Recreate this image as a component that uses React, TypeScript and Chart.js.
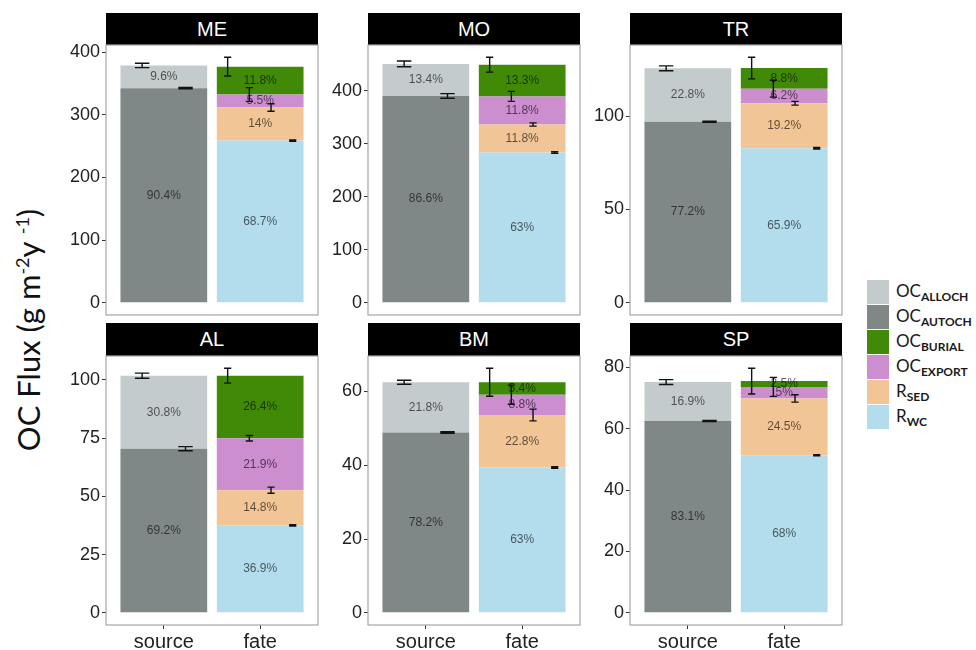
import React, { useEffect, useRef } from 'react';
import { Chart, registerables } from 'chart.js';

Chart.register(...registerables);

// Sites, one facet each (row-major order)
const sites = ['ME', 'MO', 'TR', 'AL', 'BM', 'SP'];
const categories = ['source', 'fate'];

// Total OC flux of each bar (g m-2 y-1)
const sourceTotal = [379, 451, 125.7, 101.8, 62.5, 75.2];
const fateTotal = [377, 450, 125.7, 101.8, 62.5, 75.5];

// Share of each component in its bar (%)
const autochPct = [90.4, 86.6, 77.2, 69.2, 78.2, 83.1];
const allochPct = [9.6, 13.4, 22.8, 30.8, 21.8, 16.9];
const wcPct = [68.7, 63, 65.9, 36.9, 63, 68];
const sedPct = [14, 11.8, 19.2, 14.8, 22.8, 24.5];
const exportPct = [5.5, 11.8, 6.2, 21.9, 8.8, 5];
const burialPct = [11.8, 13.3, 8.8, 26.4, 5.4, 2.5];

// Uncertainty (±) on the cumulative top of each component
const autochErr = [1, 4.4, 0.3, 0.9, 0.2, 0.2];
const allochErr = [3.5, 5.4, 1.3, 1.1, 0.55, 0.8];
const wcErr = [1, 1.5, 0.4, 0.3, 0.2, 0.2];
const sedErr = [6, 3, 1, 1.3, 1.6, 1.2];
const exportErr = [11, 9.5, 4.5, 1.2, 2.6, 3.1];
const burialErr = [15, 14, 5.8, 3.2, 3.8, 4.2];

// y tick spacing per facet
const yStep = [100, 100, 50, 25, 20, 20];

type Layer = {
  name: string;
  sub: string;
  cat: number;
  pct: number[];
  err: number[];
  color: string;
};

// Stacking order: first layer of a bar sits at the bottom
const layers: Layer[] = [
  { name: 'OC', sub: 'AUTOCH', cat: 0, pct: autochPct, err: autochErr, color: '#7f8787' },
  { name: 'OC', sub: 'ALLOCH', cat: 0, pct: allochPct, err: allochErr, color: '#c3cbcc' },
  { name: 'R', sub: 'WC', cat: 1, pct: wcPct, err: wcErr, color: '#b3dcec' },
  { name: 'R', sub: 'SED', cat: 1, pct: sedPct, err: sedErr, color: '#f2c596' },
  { name: 'OC', sub: 'EXPORT', cat: 1, pct: exportPct, err: exportErr, color: '#cc8ecf' },
  { name: 'OC', sub: 'BURIAL', cat: 1, pct: burialPct, err: burialErr, color: '#418a08' },
];

// Legend order
const legendOrder = ['ALLOCH', 'AUTOCH', 'BURIAL', 'EXPORT', 'SED', 'WC'];

const TICK_FONT = "'Liberation Sans', Arial, sans-serif";
const TITLE_FONT = "Lato, 'Open Sans', sans-serif";

const YW = 50; // width of the y axis band
const PAD = 12;
const XH = 30; // height of the x axis band (bottom row)
const colLeft = [106, 368, 630];
const plotW = 212;
const rowTop = [45, 356];
const rowH = [270, 269];
const stripH = [32, 33];

function totalOf(site: number, cat: number) {
  return cat === 0 ? sourceTotal[site] : fateTotal[site];
}

function layerValue(site: number, l: Layer) {
  return (totalOf(site, l.cat) * l.pct[site]) / 100;
}

// cumulative top, error and dodge slot of every layer in a facet
function errorBars(site: number) {
  const out: { cat: number; top: number; err: number; slot: number; n: number }[] = [];
  for (const cat of [0, 1]) {
    const ls = layers.filter((l) => l.cat === cat);
    let cum = 0;
    ls.forEach((l, idx) => {
      cum += layerValue(site, l);
      out.push({ cat, top: cum, err: l.err[site], slot: ls.length - 1 - idx, n: ls.length });
    });
  }
  return out;
}

function Panel({ site }: { site: number }) {
  const ref = useRef<HTMLCanvasElement | null>(null);
  const row = site < 3 ? 0 : 1;
  const col = site % 3;
  const bottomRow = row === 1;
  const width = YW + plotW + PAD;
  const height = PAD + rowH[row] + (bottomRow ? XH : PAD);

  useEffect(() => {
    const canvas = ref.current;
    if (!canvas) return;
    const bars = errorBars(site);
    const dataMax = Math.max(...bars.map((b) => b.top + b.err));
    const yMin = -0.05 * dataMax;
    const yMax = dataMax * 1.05;

    const decor = {
      id: 'decor',
      afterDatasetsDraw(chart: any) {
        const ctx = chart.ctx;
        const xs = chart.scales.x;
        const ys = chart.scales.y;
        ctx.save();
        // percentage labels
        ctx.font = `12px ${TICK_FONT}`;
        ctx.fillStyle = 'rgba(0,0,0,0.62)';
        ctx.textAlign = 'center';
        ctx.textBaseline = 'middle';
        layers.forEach((l, di) => {
          const el = chart.getDatasetMeta(di).data[0];
          if (!el) return;
          const { x, y, base } = el.getProps(['x', 'y', 'base'], true);
          ctx.fillText(`${l.pct[site]}%`, x, (y + base) / 2);
        });
        // error bars, dodged within each bar
        ctx.strokeStyle = '#111';
        ctx.lineWidth = 1.4;
        bars.forEach((b) => {
          const off = -0.45 + ((b.slot + 0.5) * 0.9) / b.n;
          const cx = xs.getPixelForValue(b.cat + 1 + off);
          const half = xs.getPixelForValue(1 + 0.15 / b.n) - xs.getPixelForValue(1);
          const yt = ys.getPixelForValue(b.top + b.err);
          const yb = ys.getPixelForValue(b.top - b.err);
          ctx.beginPath();
          ctx.moveTo(cx, yt);
          ctx.lineTo(cx, yb);
          ctx.moveTo(cx - half, yt);
          ctx.lineTo(cx + half, yt);
          ctx.moveTo(cx - half, yb);
          ctx.lineTo(cx + half, yb);
          ctx.stroke();
        });
        // panel border
        const a = chart.chartArea;
        ctx.strokeStyle = '#a6a6a6';
        ctx.lineWidth = 1.2;
        ctx.strokeRect(a.left, a.top, a.right - a.left, a.bottom - a.top);
        ctx.restore();
      },
    };

    const chart = new Chart(canvas, {
      type: 'bar',
      data: {
        datasets: layers.map((l) => ({
          label: l.name + l.sub,
          data: [{ x: l.cat + 1, y: layerValue(site, l) }],
          backgroundColor: l.color,
          borderWidth: 0,
          stack: 'flux',
          categoryPercentage: 1,
          barPercentage: 0.9,
        })),
      },
      options: {
        animation: false,
        responsive: false,
        devicePixelRatio: 1,
        layout: { padding: { top: PAD, right: PAD, bottom: bottomRow ? 0 : PAD, left: 0 } },
        plugins: { legend: { display: false }, tooltip: { enabled: false }, title: { display: false } },
        scales: {
          x: {
            type: 'linear',
            min: 0.4,
            max: 2.6,
            offset: false,
            afterBuildTicks: (s: any) => {
              s.ticks = [{ value: 1 }, { value: 2 }];
            },
            afterFit: (s: any) => {
              s.height = bottomRow ? XH : 0;
              s.paddingLeft = 0;
              s.paddingRight = 0;
            },
            ticks: {
              display: bottomRow,
              autoSkip: false,
              maxRotation: 0,
              padding: 1,
              color: '#222',
              font: { family: TICK_FONT, size: 20 },
              callback: (v: any) => categories[Number(v) - 1] ?? '',
            },
            grid: {
              display: bottomRow,
              offset: false,
              drawOnChartArea: false,
              drawTicks: true,
              tickLength: 4,
              color: '#333',
            },
            border: { display: false },
          },
          y: {
            type: 'linear',
            stacked: true,
            min: yMin,
            max: yMax,
            afterBuildTicks: (s: any) => {
              const t = [];
              for (let v = 0; v <= yMax; v += yStep[site]) t.push({ value: v });
              s.ticks = t;
            },
            afterFit: (s: any) => {
              s.width = YW;
              s.paddingTop = 0;
              s.paddingBottom = 0;
            },
            ticks: {
              padding: 2,
              color: '#222',
              font: { family: TICK_FONT, size: 18 },
            },
            grid: {
              drawOnChartArea: false,
              drawTicks: true,
              tickLength: 4,
              color: '#333',
            },
            border: { display: false },
          },
        },
      },
      plugins: [decor],
    } as any);
    return () => chart.destroy();
  }, [site]);

  const left = colLeft[col];
  const top = rowTop[row];
  return (
    <>
      <div
        style={{
          position: 'absolute',
          left,
          top: top - stripH[row],
          width: plotW,
          height: stripH[row],
          background: '#000',
          color: '#fff',
          fontFamily: TICK_FONT,
          fontSize: 20,
          lineHeight: `${stripH[row]}px`,
          textAlign: 'center',
        }}
      >
        {sites[site]}
      </div>
      <canvas
        ref={ref}
        width={width}
        height={height}
        style={{ position: 'absolute', left: left - YW, top: top - PAD, width, height }}
      />
    </>
  );
}

function Legend() {
  return (
    <div style={{ position: 'absolute', left: 867, top: 279 }}>
      {legendOrder.map((sub) => {
        const l = layers.find((x) => x.sub === sub)!;
        return (
          <div key={sub} style={{ display: 'flex', alignItems: 'center', height: 25 }}>
            <div style={{ width: 22, height: 24, background: l.color }} />
            <div
              style={{
                marginLeft: 7,
                fontFamily: TITLE_FONT,
                fontSize: 17,
                color: '#1a1a1a',
                whiteSpace: 'nowrap',
                lineHeight: '20px',
              }}
            >
              {l.name}
              <span style={{ fontSize: 12, fontWeight: 700, position: 'relative', top: 4 }}>{l.sub}</span>
            </div>
          </div>
        );
      })}
    </div>
  );
}

export default function App() {
  return (
    <div
      style={{
        position: 'absolute',
        left: 0,
        top: 0,
        width: 976,
        height: 650,
        background: '#fff',
        overflow: 'hidden',
      }}
    >
      <div
        style={{
          position: 'absolute',
          left: 28,
          top: 330,
          transform: 'translate(-50%, -50%) rotate(-90deg)',
          fontFamily: TITLE_FONT,
          fontSize: 31,
          color: '#111',
          whiteSpace: 'nowrap',
        }}
      >
        OC Flux (g m<sup style={{ fontSize: 18 }}>-2</sup>y <sup style={{ fontSize: 18 }}>-1</sup>)
      </div>
      {sites.map((_, i) => (
        <Panel key={i} site={i} />
      ))}
      <Legend />
    </div>
  );
}
